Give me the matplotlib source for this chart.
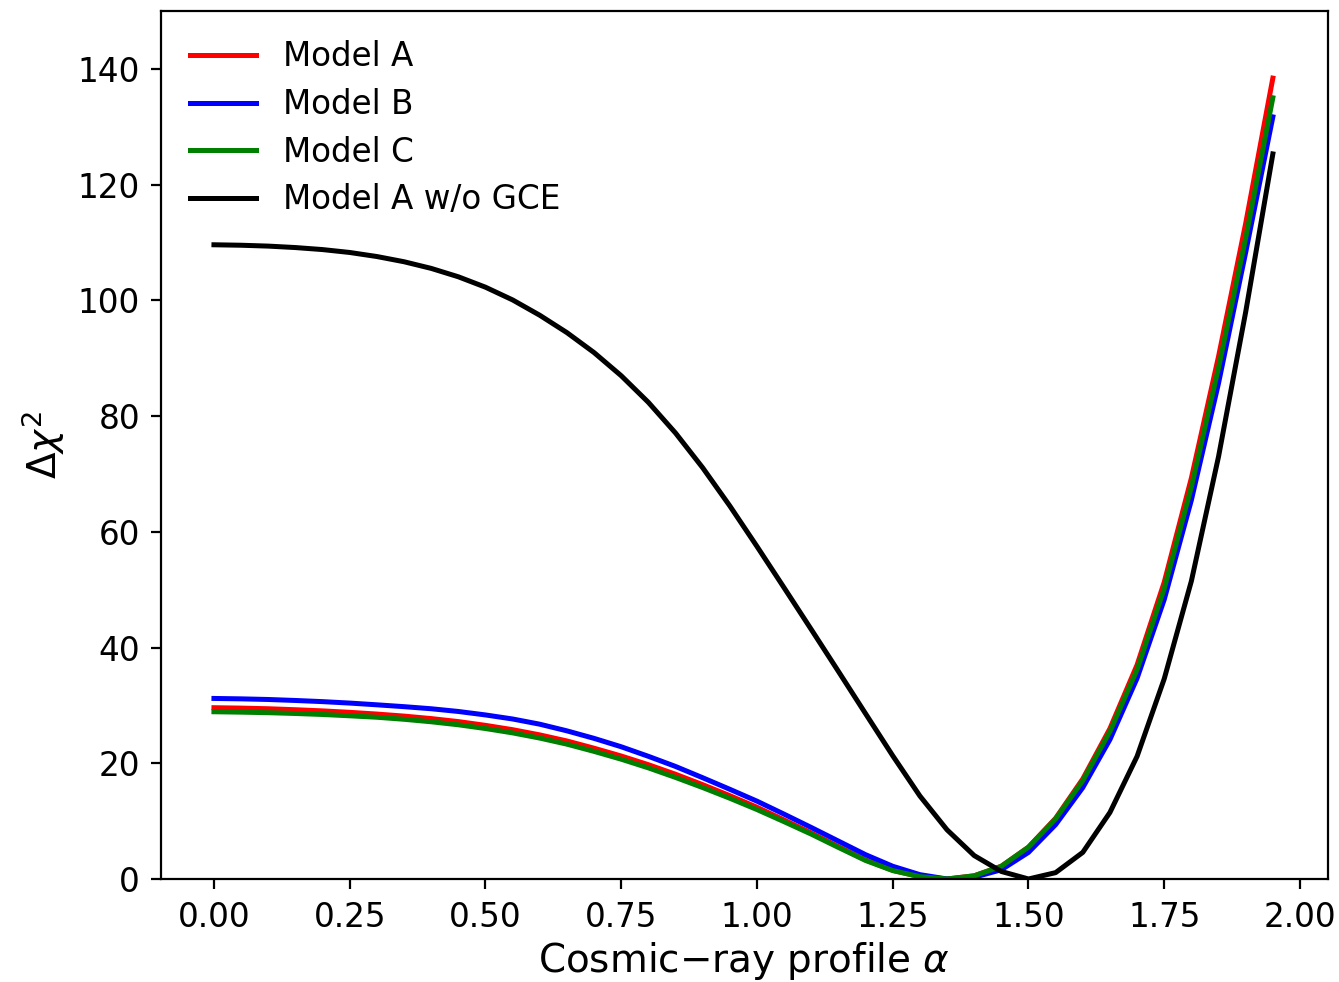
import numpy as np
import matplotlib
matplotlib.use("Agg")
import matplotlib.pyplot as plt

# Cosmic-ray profile index grid
alpha = np.round(np.arange(0.0, 1.951, 0.05), 2)

# Delta chi^2 profiles
model_a = [29.6, 29.53, 29.42, 29.25, 29.05, 28.8, 28.5, 28.15, 27.72, 27.2,
           26.55, 25.8, 24.9, 23.85, 22.6, 21.25, 19.75, 18.1, 16.3, 14.4,
           12.4, 10.2, 7.95, 5.6, 3.3, 1.5, 0.4, 0.0, 0.55, 2.2,
           5.5, 10.5, 17.3, 26.0, 37.0, 51.3, 69.3, 90.3, 113.3, 138.4]
model_b = [31.2, 31.13, 31.02, 30.85, 30.65, 30.4, 30.1, 29.78, 29.42, 28.95,
           28.35, 27.65, 26.75, 25.6, 24.3, 22.85, 21.2, 19.45, 17.5, 15.5,
           13.45, 11.2, 8.9, 6.55, 4.2, 2.2, 0.75, 0.0, 0.3, 1.6,
           4.6, 9.4, 15.8, 24.1, 34.7, 48.3, 65.5, 85.7, 108.3, 131.7]
model_c = [28.9, 28.83, 28.74, 28.6, 28.43, 28.2, 27.95, 27.6, 27.17, 26.65,
           26.0, 25.25, 24.35, 23.3, 22.05, 20.7, 19.2, 17.55, 15.8, 13.95,
           12.0, 9.9, 7.75, 5.45, 3.2, 1.45, 0.4, 0.0, 0.55, 2.2,
           5.5, 10.4, 17.0, 25.5, 36.2, 50.2, 67.8, 88.4, 110.8, 135.0]
model_a_nogce = [109.6, 109.52, 109.37, 109.12, 108.77, 108.27, 107.57, 106.67, 105.52, 104.07,
                 102.27, 100.07, 97.42, 94.42, 90.97, 86.97, 82.37, 77.07, 71.07, 64.47,
                 57.47, 50.32, 43.12, 35.87, 28.57, 21.3, 14.35, 8.5, 4.05, 1.3,
                 0.0, 1.1, 4.6, 11.5, 21.2, 34.6, 51.5, 73.0, 98.0, 125.3]

series = [
    ("Model A", model_a, "red"),
    ("Model B", model_b, "blue"),
    ("Model C", model_c, "green"),
    ("Model A w/o GCE", model_a_nogce, "black"),
]

plt.rcParams["font.family"] = ["DejaVu Sans"]
fig = plt.figure(figsize=(13.39, 9.82), dpi=100)
ax = fig.add_axes([0.1202, 0.1049, 0.8716, 0.8839])

for label, values, color in series:
    ax.plot(alpha, values, color=color, lw=3.6, label=label)

ax.set_xlim(-0.0976, 2.0516)
ax.set_ylim(0, 150)
ax.set_xticks([0.0, 0.25, 0.5, 0.75, 1.0, 1.25, 1.5, 1.75, 2.0])
ax.set_xticklabels(["0.00", "0.25", "0.50", "0.75", "1.00", "1.25", "1.50", "1.75", "2.00"])
ax.set_yticks([0, 20, 40, 60, 80, 100, 120, 140])

for s in ax.spines.values():
    s.set_linewidth(1.6)
ax.tick_params(axis="x", labelsize=23.5, length=7, width=1.6, pad=9)
ax.tick_params(axis="y", labelsize=23.5, length=7, width=1.6, pad=8)

ax.set_xlabel("Cosmic\u2212ray profile $\\alpha$", fontsize=28, labelpad=4)
ax.set_ylabel("$\\Delta\\chi^2$", fontsize=28, labelpad=8)

ax.legend(loc="upper left", frameon=False, fontsize=23.5,
          handlelength=2.0, handletextpad=0.85, labelspacing=0.45)

fig.savefig("out.png", dpi=100)
